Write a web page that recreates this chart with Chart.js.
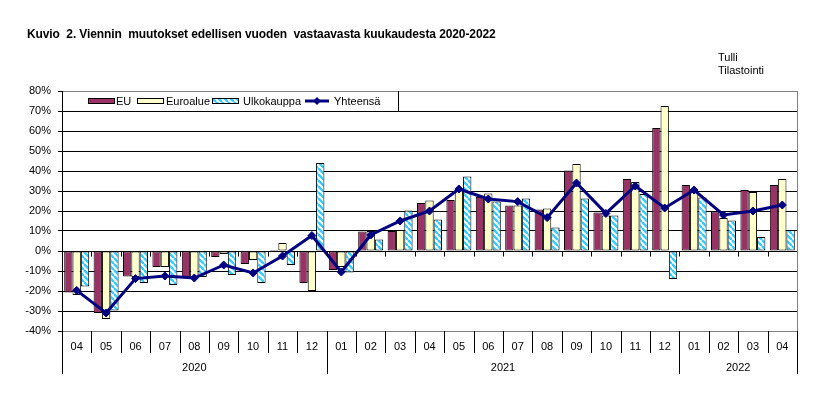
<!DOCTYPE html>
<html>
<head>
<meta charset="utf-8">
<script src="https://cdn.jsdelivr.net/npm/chart.js@4.4.1/dist/chart.umd.min.js"></script>
<style>
  html, body { margin: 0; padding: 0; background: #fff; }
  #wrap { position: relative; width: 832px; height: 416px; overflow: hidden; }
  #title { position: absolute; left: 27px; top: 27px; font: bold 12px "Liberation Sans", Arial, sans-serif; white-space: pre; color: #000; letter-spacing: -0.1px; }
  #src { position: absolute; left: 718px; top: 51px; font: 11px "Liberation Sans", Arial, sans-serif; line-height: 13px; color: #000; }
  canvas { position: absolute; left: 0; top: 0; }
</style>
</head>
<body>
<div id="wrap">
  <canvas id="c" width="832" height="416"></canvas>
  <div id="title">Kuvio  2. Viennin  muutokset edellisen vuoden  vastaavasta kuukaudesta 2020-2022</div>
  <div id="src">Tulli<br>Tilastointi</div>
</div>
<script>
// ---- data ----
const months = ['04','05','06','07','08','09','10','11','12','01','02','03','04','05','06','07','08','09','10','11','12','01','02','03','04'];
const yearLabels = ['2020','2021','2022'];
const yearSpans = [9, 12, 4];
const seriesNames = ['EU', 'Euroalue', 'Ulkokauppa', 'Yhteensä'];
const euValues = [-20.7,-31,-12.8,-8,-13,-3,-6.5,0.5,-16,-9.5,9.8,10,24,25.5,27,22.8,20.8,40.3,19.2,36,61.5,33,19.8,30.5,33];
const euroValues = [-22,-34,-13,-8,-13,-1.5,-4.5,4,-20,-8,10,10.5,25.3,31,28.8,22.8,21.3,43.5,17.8,34.5,72.5,30.5,16.5,29.5,36];
const ulkoValues = [-17.7,-29.7,-16,-17,-13,-12,-16,-7,44,-10.7,5.8,20.3,15.8,37.3,24.7,26.3,11.8,26.2,17.8,28.5,-14,26.8,15.3,7,10.5];
const totalValues = [-19.7,-31,-13.8,-12.5,-13.5,-7,-11,-2.5,7.7,-10.5,8,15,20,31,26,24.7,16.7,34,18.8,32.5,21.5,30.5,18,20,23];
const yMin = -40, yMax = 80, yStep = 10;

// ---- styles ----
const FONT = '"Liberation Sans", Arial, sans-serif';
Chart.defaults.font.family = FONT;
Chart.defaults.font.size = 11;
Chart.defaults.color = '#000';

function makeStripe() {
  const s = 6;
  const c = document.createElement('canvas');
  c.width = s; c.height = s;
  const g = c.getContext('2d');
  g.fillStyle = '#fff'; g.fillRect(0, 0, s, s);
  g.strokeStyle = '#33CCFF'; g.lineWidth = 2.4;
  for (let k = -1; k <= 1; k++) {
    g.beginPath(); g.moveTo(k * s, 0); g.lineTo(k * s + s, s); g.stroke();
  }
  return g.createPattern(c, 'repeat');
}
const stripe = makeStripe();
const COLORS = { eu: '#993366', euro: '#FFFFCC', line: '#000080' };

const extras = {
  id: 'extras',
  afterDraw(chart) {
    const ctx = chart.ctx;
    const x = chart.scales.x, y = chart.scales.y;
    const a = chart.chartArea;
    const n = months.length;
    const bnd = i => i === 0 ? a.left : (i === n ? a.right : (x.getPixelForValue(i - 1) + x.getPixelForValue(i)) / 2);
    ctx.save();
    // right grey border
    ctx.strokeStyle = '#808080'; ctx.lineWidth = 1;
    ctx.beginPath();
    ctx.moveTo(Math.round(a.right) + 0.5, a.top); ctx.lineTo(Math.round(a.right) + 0.5, a.bottom);
    ctx.stroke();
    // ticks at zero line
    const y0 = Math.round(y.getPixelForValue(0)) + 0.5;
    ctx.strokeStyle = '#000';
    ctx.beginPath();
    for (let i = 1; i < n; i++) {
      const bx = Math.round(bnd(i)) + 0.5;
      ctx.moveTo(bx, y0); ctx.lineTo(bx, y0 + 5);
    }
    ctx.stroke();
    // month separators and year separators
    const yearB = [0];
    yearSpans.reduce((s, v) => { yearB.push(s + v); return s + v; }, 0);
    ctx.beginPath();
    for (let i = 0; i <= n; i++) {
      const bx = Math.round(bnd(i)) + 0.5;
      const isYear = yearB.includes(i);
      ctx.moveTo(bx, a.bottom); ctx.lineTo(bx, a.bottom + (isYear ? 43 : 22));
    }
    ctx.stroke();
    // year labels
    ctx.fillStyle = '#000';
    ctx.font = '11px ' + FONT;
    ctx.textAlign = 'center'; ctx.textBaseline = 'middle';
    for (let k = 0; k < yearLabels.length; k++) {
      const cx = (bnd(yearB[k]) + bnd(yearB[k + 1])) / 2;
      ctx.fillText(yearLabels[k], cx, a.bottom + 37);
    }
    // legend box
    const lx = a.left, ly = a.top, lw = 336, lh = 20;
    ctx.fillStyle = '#fff';
    ctx.fillRect(lx + 1, ly + 1, lw - 1, lh - 1);
    ctx.strokeStyle = '#000';
    ctx.beginPath();
    ctx.moveTo(lx + lw + 0.5, ly); ctx.lineTo(lx + lw + 0.5, ly + lh);
    ctx.stroke();
    const cy = ly + 10;
    const items = [
      { x: 88, tx: 116, fill: COLORS.eu, label: seriesNames[0] },
      { x: 137, tx: 166, fill: COLORS.euro, label: seriesNames[1] },
      { x: 212, tx: 243, fill: stripe, label: seriesNames[2] }
    ];
    ctx.textAlign = 'left';
    items.forEach(it => {
      ctx.fillStyle = it.fill;
      ctx.fillRect(it.x, cy - 3, 27, 6);
      ctx.strokeStyle = '#000';
      ctx.strokeRect(it.x + 0.5, cy - 3 + 0.5, 26, 5);
      ctx.fillStyle = '#000';
      ctx.fillText(it.label, it.tx, cy + 0.5);
    });
    // line legend
    ctx.strokeStyle = COLORS.line; ctx.lineWidth = 3;
    ctx.beginPath(); ctx.moveTo(305, cy); ctx.lineTo(329, cy); ctx.stroke();
    ctx.fillStyle = COLORS.line;
    ctx.beginPath();
    ctx.moveTo(317, cy - 4); ctx.lineTo(321, cy); ctx.lineTo(317, cy + 4); ctx.lineTo(313, cy); ctx.closePath(); ctx.fill();
    ctx.fillStyle = '#000';
    ctx.fillText(seriesNames[3], 334, cy + 0.5);
    ctx.restore();
  }
};

new Chart(document.getElementById('c'), {
  data: {
    labels: months,
    datasets: [
      { type: 'line', label: seriesNames[3], data: totalValues, borderColor: COLORS.line, backgroundColor: COLORS.line,
        borderWidth: 3, pointStyle: 'rectRot', pointRadius: 4, pointBorderWidth: 1, tension: 0, order: 0 },
      { type: 'bar', label: seriesNames[0], data: euValues, backgroundColor: COLORS.eu, borderColor: '#000', borderWidth: 1, borderSkipped: false, order: 1 },
      { type: 'bar', label: seriesNames[1], data: euroValues, backgroundColor: COLORS.euro, borderColor: '#000', borderWidth: 1, borderSkipped: false, order: 1 },
      { type: 'bar', label: seriesNames[2], data: ulkoValues, backgroundColor: stripe, borderColor: '#000', borderWidth: 1, borderSkipped: false, order: 1 }
    ]
  },
  options: {
    responsive: false,
    animation: false,
    devicePixelRatio: 1,
    layout: { padding: { left: 0, top: 91, right: 35, bottom: 0 } },
    plugins: { legend: { display: false }, tooltip: { enabled: false } },
    datasets: { bar: { categoryPercentage: 0.85, barPercentage: 1.0 } },
    scales: {
      x: {
        type: 'category',
        offset: true,
        grid: { display: false },
        border: { display: false },
        ticks: { padding: 1, maxRotation: 0, autoSkip: false, font: { size: 11 } },
        afterFit(s) { s.height = 85; }
      },
      y: {
        min: yMin, max: yMax,
        ticks: { stepSize: yStep, padding: 7, callback: v => v + '%', font: { size: 11 } },
        grid: { color: c => (c.tick && (c.tick.value === yMax || c.tick.value === yMin)) ? '#808080' : '#000', tickLength: 4, tickColor: '#000' },
        border: { display: true, color: '#000', width: 1 },
        afterFit(s) { s.width = 62; }
      }
    }
  },
  plugins: [extras]
});
</script>
</body>
</html>
